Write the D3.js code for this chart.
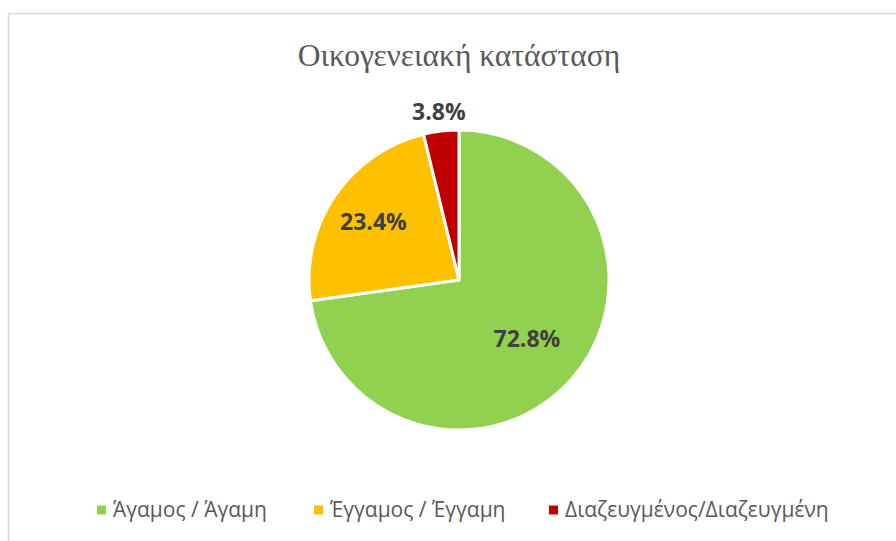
<!DOCTYPE html>
<html>
<head>
<meta charset="utf-8">
<script src="https://cdn.jsdelivr.net/npm/d3@7"></script>
<style>
body{margin:0;background:#fff;}
</style>
</head>
<body>
<svg id="chart"></svg>
<script>
var categories = ["Άγαμος / Άγαμη","Έγγαμος / Έγγαμη","Διαζευγμένος/Διαζευγμένη"];
var values = [72.8, 23.4, 3.8];
var colors = ["#92D050","#FFC000","#C00000"];
var title = "Οικογενειακή κατάσταση";

var screen = {width:896, height:541};
var center = {x:459, y:280};
var radius = 150;

var svg = d3.select("#chart")
    .attr("width", screen.width)
    .attr("height", screen.height);

// chart border
svg.append("rect")
    .attr("x",8.5).attr("y",13.5)
    .attr("width",900).attr("height",560)
    .style("fill","none")
    .style("stroke","#d9d9d9")
    .style("stroke-width",1.5);

svg.append("text")
    .text(title)
    .attr("x",center.x)
    .attr("y",66)
    .attr("text-anchor","middle")
    .style("font-family","'Liberation Serif','DejaVu Serif',serif")
    .style("font-size","31.5px")
    .style("fill","#595959");

var data = categories.map(function(c,i){return {name:c, value:values[i], color:colors[i]};});

var pie = d3.pie().sort(null).value(function(d){return d.value;});
var arcs = pie(data);
var arc = d3.arc().innerRadius(0).outerRadius(radius);

var g = svg.append("g")
    .attr("transform","translate("+center.x+","+center.y+")");

g.selectAll("path")
    .data(arcs)
    .enter()
    .append("path")
    .attr("d",arc)
    .style("fill",function(d){return d.data.color;})
    .style("stroke","#fff")
    .style("stroke-width",3)
    .style("stroke-linejoin","round");

// label radii: inside for big slices, outside for the small one
var labelR = [0.6, 0.69, 1.13];
g.selectAll("text.lbl")
    .data(arcs)
    .enter()
    .append("text")
    .classed("lbl",true)
    .attr("transform",function(d,i){
        var a = (d.startAngle+d.endAngle)/2;
        var r = radius*labelR[i];
        return "translate("+(Math.sin(a)*r)+","+(-Math.cos(a)*r)+")";
    })
    .attr("text-anchor","middle")
    .attr("dy","0.35em")
    .text(function(d){return d.data.value.toFixed(1)+"%";})
    .style("font-family","'Open Sans',Lato,sans-serif")
    .style("font-weight","bold")
    .style("font-size","23px")
    .style("fill","#404040");

// legend
var legendX = [97, 314, 549];
var legend = svg.append("g");
var items = legend.selectAll("g")
    .data(data)
    .enter()
    .append("g")
    .attr("transform",function(d,i){return "translate("+legendX[i]+",510)";});
items.append("rect")
    .attr("x",0).attr("y",-4.5)
    .attr("width",9).attr("height",9)
    .style("fill",function(d){return d.color;});
items.append("text")
    .attr("x",16)
    .attr("dy","0.35em")
    .text(function(d){return d.name;})
    .style("font-family","'Open Sans',sans-serif")
    .style("font-size","21px")
    .style("fill","#595959");
</script>
</body>
</html>
